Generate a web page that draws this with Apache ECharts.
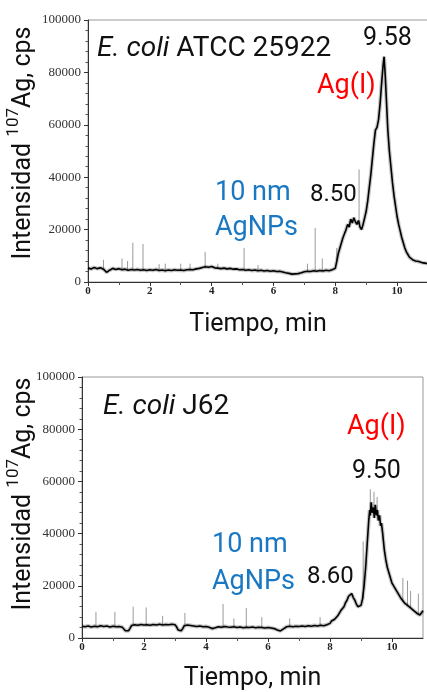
<!DOCTYPE html>
<html>
<head>
<meta charset="utf-8">
<script src="https://cdn.jsdelivr.net/npm/echarts@6/dist/echarts.min.js"></script>
<style>
html,body{margin:0;padding:0;background:#fff;}
#chart{width:427px;height:692px;}
</style>
</head>
<body>
<div id="chart"></div>
<script>
// ---- Data (time in min, intensity in cps) ----
const xTickValues = [0, 2, 4, 6, 8, 10];
const yTickValues = [0, 20000, 40000, 60000, 80000, 100000];

const topTrace = [
  [0,5300],[0.1,5000],[0.2,5500],[0.3,5100],[0.4,5400],[0.5,4900],[0.55,4200],[0.6,3700],[0.65,3800],[0.7,4500],
  [0.8,5200],[0.9,4800],[1.0,5100],[1.1,4700],[1.2,4900],[1.3,4500],[1.4,4800],[1.5,4600],[1.6,4800],[1.7,4500],
  [1.8,4700],[1.9,4400],[2.0,4700],[2.1,4500],[2.2,4800],[2.3,4400],[2.4,4600],[2.5,4300],[2.6,4600],[2.7,4400],
  [2.8,4700],[2.9,4500],[3.0,4600],[3.1,4400],[3.2,4700],[3.3,4800],[3.4,4700],[3.5,5000],[3.6,5200],[3.7,5500],
  [3.8,5800],[3.9,5600],[4.0,5900],[4.1,5400],[4.2,5300],[4.3,5100],[4.4,5300],[4.5,5000],[4.6,5200],[4.7,4900],
  [4.8,5000],[4.9,4700],[5.0,4800],[5.1,4500],[5.2,4700],[5.3,4400],[5.4,4600],[5.5,4300],[5.6,4500],[5.7,4200],
  [5.8,4400],[5.9,4100],[6.0,4300],[6.1,4000],[6.2,4100],[6.3,3800],[6.4,3500],[6.5,3300],[6.6,3000],[6.7,3100],
  [6.8,3200],[6.9,3500],[7.0,3900],[7.1,4100],[7.2,4000],[7.3,4300],[7.4,4100],[7.5,4400],[7.6,4200],[7.7,4500],
  [7.8,4300],[7.9,4700],[8.0,5200],[8.05,8000],[8.1,11000],[8.15,13000],[8.2,15000],[8.25,17000],[8.3,18500],[8.35,20000],
  [8.4,22000],[8.45,21000],[8.5,24000],[8.55,22500],[8.6,24500],[8.65,23000],[8.7,22000],[8.75,23500],[8.8,21000],[8.85,20000],
  [8.9,22000],[8.95,24500],[9.0,27000],[9.05,31000],[9.1,36000],[9.15,41000],[9.2,47000],[9.25,53000],[9.3,58000],[9.35,59000],
  [9.4,62000],[9.45,68000],[9.5,76000],[9.55,83000],[9.58,86000],[9.62,78000],[9.66,68000],[9.7,58000],[9.75,50000],[9.8,44000],
  [9.85,38000],[9.9,33000],[9.95,29000],[10.0,25000],[10.05,22000],[10.1,19500],[10.15,17000],[10.2,15000],[10.25,13000],[10.3,11500],
  [10.35,10500],[10.4,9500],[10.5,8500],[10.6,8000],[10.7,7800],[10.8,7400],[10.9,7200],[11.0,7000]
];
// [time, baseline, spike top]
const topSpikes = [
  [0.5,4900,8500],[1.1,4700,9000],[1.28,4600,8000],[1.45,4600,15000],[1.78,4600,14500],[2.3,4400,6800],
  [2.5,4300,7000],[3.0,4600,7000],[3.3,4800,7000],[3.79,5800,11500],[4.2,5300,7000],[5.05,4700,13000],
  [5.5,4300,6500],[7.1,4100,7000],[7.35,4200,20600],[7.58,4200,9000],[8.05,8000,13000],[8.77,22000,43000]
];

const bottomTrace = [
  [0,4500],[0.1,4300],[0.2,4600],[0.3,4200],[0.4,4500],[0.5,4300],[0.6,4700],[0.7,4400],[0.8,4600],[0.9,4200],
  [1.0,4500],[1.1,4300],[1.2,4400],[1.3,4100],[1.35,3400],[1.4,2800],[1.45,2500],[1.5,2800],[1.55,3700],[1.6,4800],
  [1.7,5100],[1.8,4900],[1.9,5200],[2.0,5000],[2.1,5100],[2.2,4900],[2.3,5200],[2.4,5000],[2.5,5300],[2.6,5000],
  [2.7,5200],[2.8,5100],[2.9,5300],[3.0,5100],[3.05,4300],[3.1,3100],[3.15,2600],[3.2,2800],[3.25,3600],[3.3,4700],
  [3.4,5000],[3.5,4800],[3.6,4600],[3.7,4400],[3.8,4600],[3.9,4300],[4.0,4400],[4.1,4100],[4.2,3600],[4.3,3900],
  [4.4,4300],[4.5,4100],[4.6,4400],[4.7,4200],[4.8,4100],[4.9,4300],[5.0,4000],[5.1,4200],[5.2,3900],[5.3,4100],
  [5.4,4000],[5.5,4200],[5.6,3900],[5.7,4100],[5.8,4000],[5.9,3800],[6.0,4000],[6.1,3800],[6.2,3600],[6.3,3100],
  [6.4,2700],[6.45,2800],[6.5,3500],[6.6,4300],[6.7,4500],[6.8,4300],[6.9,4500],[7.0,4400],[7.1,4600],[7.2,4400],
  [7.3,4700],[7.4,4500],[7.5,4800],[7.6,4600],[7.7,4900],[7.8,4700],[7.9,5100],[8.0,5600],[8.05,6500],[8.1,6000],
  [8.15,7200],[8.2,7000],[8.25,8500],[8.3,9000],[8.35,10500],[8.4,10000],[8.45,12000],[8.5,13500],[8.55,14500],[8.6,16000],
  [8.65,16500],[8.7,17000],[8.75,15500],[8.8,14500],[8.85,13000],[8.9,12000],[8.95,11500],[9.0,12500],[9.05,15000],[9.1,20000],
  [9.15,27000],[9.2,36000],[9.25,45000],[9.28,49000],[9.3,47000],[9.33,52000],[9.36,48000],[9.4,50000],[9.43,46000],[9.46,51000],
  [9.5,47000],[9.53,49000],[9.56,45000],[9.6,47000],[9.63,43000],[9.66,44000],[9.7,40000],[9.75,34000],[9.8,30000],[9.85,27000],
  [9.9,25000],[9.95,23000],[10.0,21000],[10.1,19000],[10.2,17000],[10.3,15000],[10.4,13500],[10.5,12500],[10.6,11500],[10.7,10500],
  [10.8,9500],[10.9,8800],[10.95,8500],[11.0,10500]
];
const bottomSpikes = [
  [0.45,4300,10000],[1.06,4300,10000],[1.65,5000,12000],[2.07,5000,11700],[2.6,5000,8500],[3.32,4800,9600],
  [4.55,4300,13000],[4.9,4300,7500],[5.3,4100,11500],[5.8,4000,8000],[6.7,4500,7500],[7.68,4900,8000],
  [9.07,15000,37000],[9.3,47000,57000],[9.42,48000,56000],[9.52,48000,54000],[10.35,14000,23000],
  [10.5,12500,22000],[10.6,11500,18000],[10.85,9000,17000]
];

// ---- Chart ----
const chart = echarts.init(document.getElementById('chart'), null, {renderer: 'canvas'});
const SERIF = 'Liberation Serif';
const SANS = 'Roboto';

function xAxisCfg(gridIndex, gap) {
  return {
    type: 'value', gridIndex: gridIndex, min: 0, max: 11, interval: 2,
    name: 'Tiempo, min', nameLocation: 'middle', nameGap: gap, nameMoveOverlap: false,
    nameTextStyle: {fontFamily: SANS, fontSize: 25, color: '#111'},
    axisLine: {show: true, onZero: false, lineStyle: {color: '#333', width: 1}},
    axisTick: {show: true, length: 4, customValues: xTickValues, lineStyle: {color: '#333'}},
    minorTick: {show: true, splitNumber: 2, length: 3, lineStyle: {color: '#555'}},
    axisLabel: {customValues: xTickValues, fontFamily: SERIF, fontWeight: 'bold', fontSize: 11, color: '#222', margin: 4},
    splitLine: {show: false}
  };
}
function yAxisCfg(gridIndex, gap, pad) {
  return {
    type: 'value', gridIndex: gridIndex, min: 0, max: 100000, interval: 20000,
    name: 'Intensidad {sup|107}Ag, cps', nameLocation: 'middle', nameGap: gap, nameMoveOverlap: false,
    nameTextStyle: {
      fontFamily: SANS, fontSize: 25, color: '#111', lineHeight: 38,
      backgroundColor: '#fff', padding: pad,
      rich: {sup: {fontFamily: SANS, fontSize: 17, lineHeight: 17, verticalAlign: 'top', color: '#111'}}
    },
    axisLine: {show: true, onZero: false, lineStyle: {color: '#333', width: 1}},
    axisTick: {show: true, length: 4, customValues: yTickValues, lineStyle: {color: '#333'}},
    minorTick: {show: true, splitNumber: 5, length: 2.5, lineStyle: {color: '#555'}},
    axisLabel: {customValues: yTickValues, formatter: function (v) { return String(v); },
      fontFamily: SERIF, fontSize: 13, color: '#333', margin: 7},
    splitLine: {show: false}
  };
}

function spikeRender(params, api) {
  const p1 = api.coord([api.value(0), api.value(1)]);
  const p2 = api.coord([api.value(0), api.value(2)]);
  return {type: 'line', shape: {x1: p1[0], y1: p1[1], x2: p2[0], y2: p2[1]},
    style: {stroke: '#9a9a9a', lineWidth: 1}};
}

function label(text, x, y, size, color, rich) {
  const st = {text: text, fontFamily: SANS, fontSize: size, fill: color,
    align: 'left', verticalAlign: 'middle', textAlign: 'left', textVerticalAlign: 'middle'};
  if (rich) st.rich = rich;
  return {type: 'text', x: x, y: y, z: 100, style: st};
}
const italic = {i: {fontFamily: SANS, fontSize: 28, fontStyle: 'italic', fill: '#111'}};
const BLUE = '#1a78c2', RED = '#ff0000', BLACK = '#111';

function traceSeries(idx, data) {
  return [
    {type: 'line', xAxisIndex: idx, yAxisIndex: idx, data: data, showSymbol: false,
      lineStyle: {color: 'rgba(0,0,0,0.22)', width: 4}, z: 2, silent: true},
    {type: 'line', xAxisIndex: idx, yAxisIndex: idx, data: data, showSymbol: false,
      lineStyle: {color: '#000', width: 1.6}, z: 3, silent: true}
  ];
}

chart.setOption({
  backgroundColor: '#fff',
  animation: false,
  grid: [
    {left: 88, top: 20, width: 340, height: 262, show: true, borderColor: '#999', borderWidth: 1, backgroundColor: '#fff', outerBoundsMode: 'none'},
    {left: 82, top: 377, width: 341, height: 261, show: true, borderColor: '#999', borderWidth: 1, backgroundColor: '#fff', outerBoundsMode: 'none'}
  ],
  xAxis: [xAxisCfg(0, 30), xAxisCfg(1, 28)],
  yAxis: [yAxisCfg(0, 40, [4, 10, 5, 26]), yAxisCfg(1, 34, [4, 6, 5, 33])],
  series: [].concat(
    [{type: 'custom', xAxisIndex: 0, yAxisIndex: 0, data: topSpikes, renderItem: spikeRender, encode: {x: 0, y: [1, 2]}, z: 1, silent: true}],
    traceSeries(0, topTrace),
    [{type: 'custom', xAxisIndex: 1, yAxisIndex: 1, data: bottomSpikes, renderItem: spikeRender, encode: {x: 0, y: [1, 2]}, z: 1, silent: true}],
    traceSeries(1, bottomTrace)
  ),
  graphic: [
    label('{i|E. coli} ATCC 25922', 97, 49, 28, BLACK, italic),
    label('9.58', 363, 39, 25, BLACK),
    label('Ag(I)', 317, 86, 27, RED),
    label('10 nm', 215, 193, 27, BLUE),
    label('AgNPs', 215, 228, 27, BLUE),
    label('8.50', 310, 195, 24, BLACK),
    label('{i|E. coli} J62', 103, 407, 28, BLACK, italic),
    label('Ag(I)', 347, 427, 27, RED),
    label('9.50', 352, 472, 25, BLACK),
    label('10 nm', 212, 545, 27, BLUE),
    label('AgNPs', 212, 582, 27, BLUE),
    label('8.60', 307, 577, 24, BLACK)
  ]
});
</script>
</body>
</html>
